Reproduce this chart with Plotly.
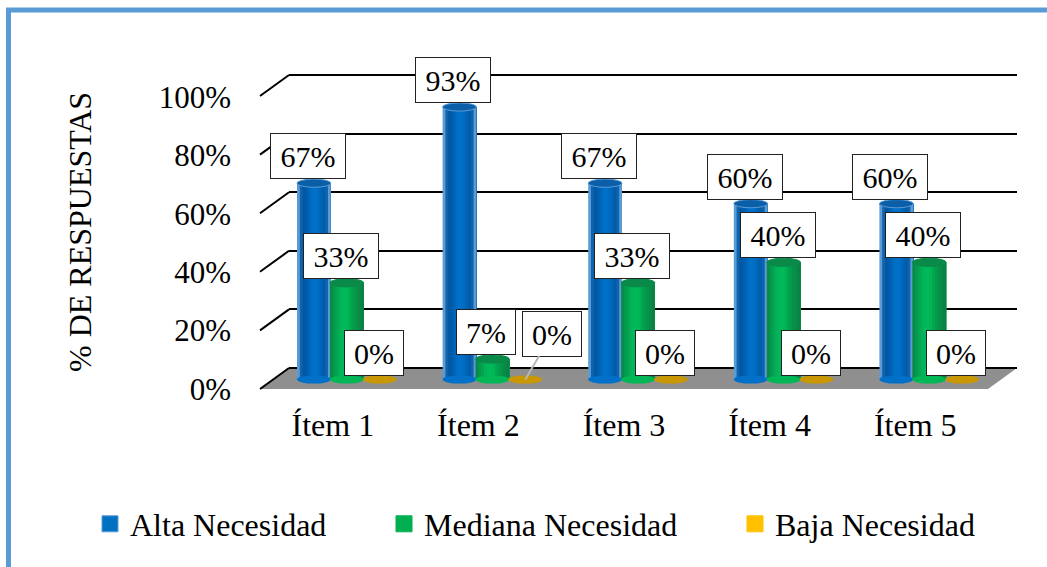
import plotly.graph_objects as go

W, H = 1047, 567

categories = ['Ítem 1', 'Ítem 2', 'Ítem 3', 'Ítem 4', 'Ítem 5']
alta = [67, 93, 67, 60, 60]
mediana = [33, 7, 33, 40, 40]
baja = [0, 0, 0, 0, 0]
y_ticks = [0, 20, 40, 60, 80, 100]

FONT = 'Liberation Serif'
idx = list(range(len(categories)))


def px(x):
    return x / W


def py(y):
    return 1 - y / H


# left-to-right shading of each cylinder
blue_strips = ['#5b9bd5', '#0f62ab', '#0058a3', '#005dae', '#0066bc', '#006fc6', '#0070c8',
               '#006cc2', '#0064b6', '#005dab', '#0f62ab', '#5b9bd5']
green_strips = ['#0a8a48', '#049a4c', '#04a552', '#06b058', '#00b85a', '#00ba5a',
                '#00b655', '#02a650', '#049c4c', '#069248', '#0a8a48', '#0a8244']

series = [
    ('Alta Necesidad', alta, -0.226, '#0070c0', blue_strips, '#0b5ea8', '#5b9bd5'),
    ('Mediana Necesidad', mediana, 0, '#00b050', green_strips, '#0a8a48', '#0a8a48'),
    ('Baja Necesidad', baja, 0.226, '#ffc000', ['#c99700'], '#c99700', '#c99700'),
]
bar_w = 0.232
ell_h = 1.4

fig = go.Figure()
shapes = []
annotations = []

# floor and wall slashes
shapes.append(dict(type='path', xref='paper', yref='paper', layer='below', line_width=0,
                   fillcolor='#8f8f8f',
                   path=f'M {px(260)} {py(389)} L {px(289)} {py(368)} L {px(1017)} {py(368)} L {px(988)} {py(389)} Z'))
for v in y_ticks:
    y_back = 368 - v * 2.93
    shapes.append(dict(type='line', xref='paper', yref='paper', layer='below',
                       x0=px(260), y0=py(y_back + 21), x1=px(289), y1=py(y_back),
                       line=dict(color='black', width=2)))

for name, vals, off, color, strips, top_col, rim in series:
    n = len(strips)
    for s, col in enumerate(strips):
        fig.add_trace(go.Bar(x=[i + off for i in idx], y=vals, xaxis='x3', yaxis='y3',
                             width=bar_w - s * bar_w / n, offset=-bar_w / 2 + s * bar_w / n,
                             marker=dict(color=col, line_width=0),
                             showlegend=False, hoverinfo='skip'))
    for i, v in zip(idx, vals):
        x0, x1 = i + off - bar_w / 2, i + off + bar_w / 2
        shapes.append(dict(type='circle', xref='x3', yref='y3', layer='above',
                           x0=x0, x1=x1, y0=-ell_h, y1=ell_h, fillcolor=strips[len(strips) // 2],
                           line_width=0))
        if v > 0:
            shapes.append(dict(type='circle', xref='x3', yref='y3', layer='above',
                               x0=x0, x1=x1, y0=v - ell_h, y1=v + ell_h, fillcolor=top_col,
                               line=dict(color=rim, width=1)))

for s_i, (name, vals, off, color, strips, top_col, rim) in enumerate(series):
    for i, v in zip(idx, vals):
        moved = (s_i == 2 and i == 1)
        box_w = 74 if v >= 10 else 58
        annotations.append(dict(
            x=i + off, y=v, xref='x3', yref='y3', text=f'{v}%',
            font=dict(family=FONT, size=30, color='black'),
            bgcolor='white', bordercolor='#222222', borderwidth=1, borderpad=0,
            width=box_w, height=44,
            showarrow=moved, arrowhead=0, arrowcolor='#b8b8b8', arrowwidth=2,
            ax=27, ay=-46,
            xanchor='center', yanchor='bottom' if not moved else None,
            xshift=0 if moved else -6, yshift=0 if moved else 4,
        ))

annotations.append(dict(x=px(80), y=py(232), xref='paper', yref='paper', text='% DE RESPUESTAS',
                        textangle=-90, showarrow=False, xanchor='center', yanchor='middle',
                        font=dict(family=FONT, size=32, color='black')))

# blue frame
shapes.append(dict(type='path', xref='paper', yref='paper', layer='above',
                   line=dict(color='#5b9bd5', width=5),
                   path=f'M {px(8.5)} {py(567)} L {px(8.5)} {py(10)} L {px(1047)} {py(10)}'))

# legend entries, one legend each so the spacing can follow the picture
legend_x = [90, 384, 735]
for k, (name, vals, off, color, strips, top_col, rim) in enumerate(series):
    lg = 'legend' if k == 0 else f'legend{k + 1}'
    fig.add_trace(go.Scatter(x=[None], y=[None], mode='markers', name=name, legend=lg,
                             marker=dict(symbol='square', size=16, color=color,
                                         line=dict(color=rim if k == 0 else color, width=1))))
    fig.update_layout({lg: dict(x=px(legend_x[k]), y=py(524), xanchor='left', yanchor='middle',
                                bgcolor='rgba(0,0,0,0)', font=dict(family=FONT, size=32, color='black'),
                                itemwidth=30)})

fig.update_layout(
    width=W, height=H, margin=dict(l=0, r=0, t=0, b=0, autoexpand=False),
    paper_bgcolor='white', plot_bgcolor='rgba(0,0,0,0)',
    barmode='overlay', font=dict(family=FONT, size=30, color='black'),
    shapes=shapes, annotations=annotations,
    # front plane: tick labels
    xaxis=dict(domain=[px(260), px(988)], range=[-0.5, 4.5], tickvals=idx, ticktext=categories,
               tickfont=dict(size=32), showgrid=False, zeroline=False, showline=False, ticks='',
               anchor='y', automargin=False, ticklabelstandoff=14),
    yaxis=dict(domain=[py(389), py(97)], range=[0, 100], tickvals=y_ticks,
               ticktext=[f'{v}%' for v in y_ticks], tickfont=dict(size=31),
               showgrid=False, zeroline=False, showline=False, ticks='', anchor='x',
               automargin=False, ticklabelstandoff=28),
    # back wall: gridlines; range padded so the end lines are kept
    xaxis2=dict(domain=[px(289), px(1017)], range=[0, 1], visible=False, anchor='y2'),
    yaxis2=dict(domain=[py(368 + 2.93), py(75 - 2.93)], range=[-1, 101], tickvals=y_ticks,
                showticklabels=False, showgrid=True, gridcolor='black', gridwidth=2,
                zeroline=False, showline=False, ticks='', anchor='x2'),
    # plane of the cylinders; range starts below zero so the bottom ellipses are not clipped
    xaxis3=dict(domain=[px(274), px(1002)], range=[-0.5, 4.5], visible=False, anchor='y3'),
    yaxis3=dict(domain=[py(379.5 + 5 * 2.93), py(86.5)], range=[-5, 100], visible=False, anchor='x3'),
)

# gives the gridline subplot something to draw on
fig.add_trace(go.Scatter(x=[None], y=[None], xaxis='x2', yaxis='y2', showlegend=False, hoverinfo='skip'))
fig.add_trace(go.Scatter(x=[None], y=[None], xaxis='x', yaxis='y', showlegend=False, hoverinfo='skip'))

fig.write_html('out.html', post_script="document.body.style.margin='0'",
               config=dict(displayModeBar=False))
